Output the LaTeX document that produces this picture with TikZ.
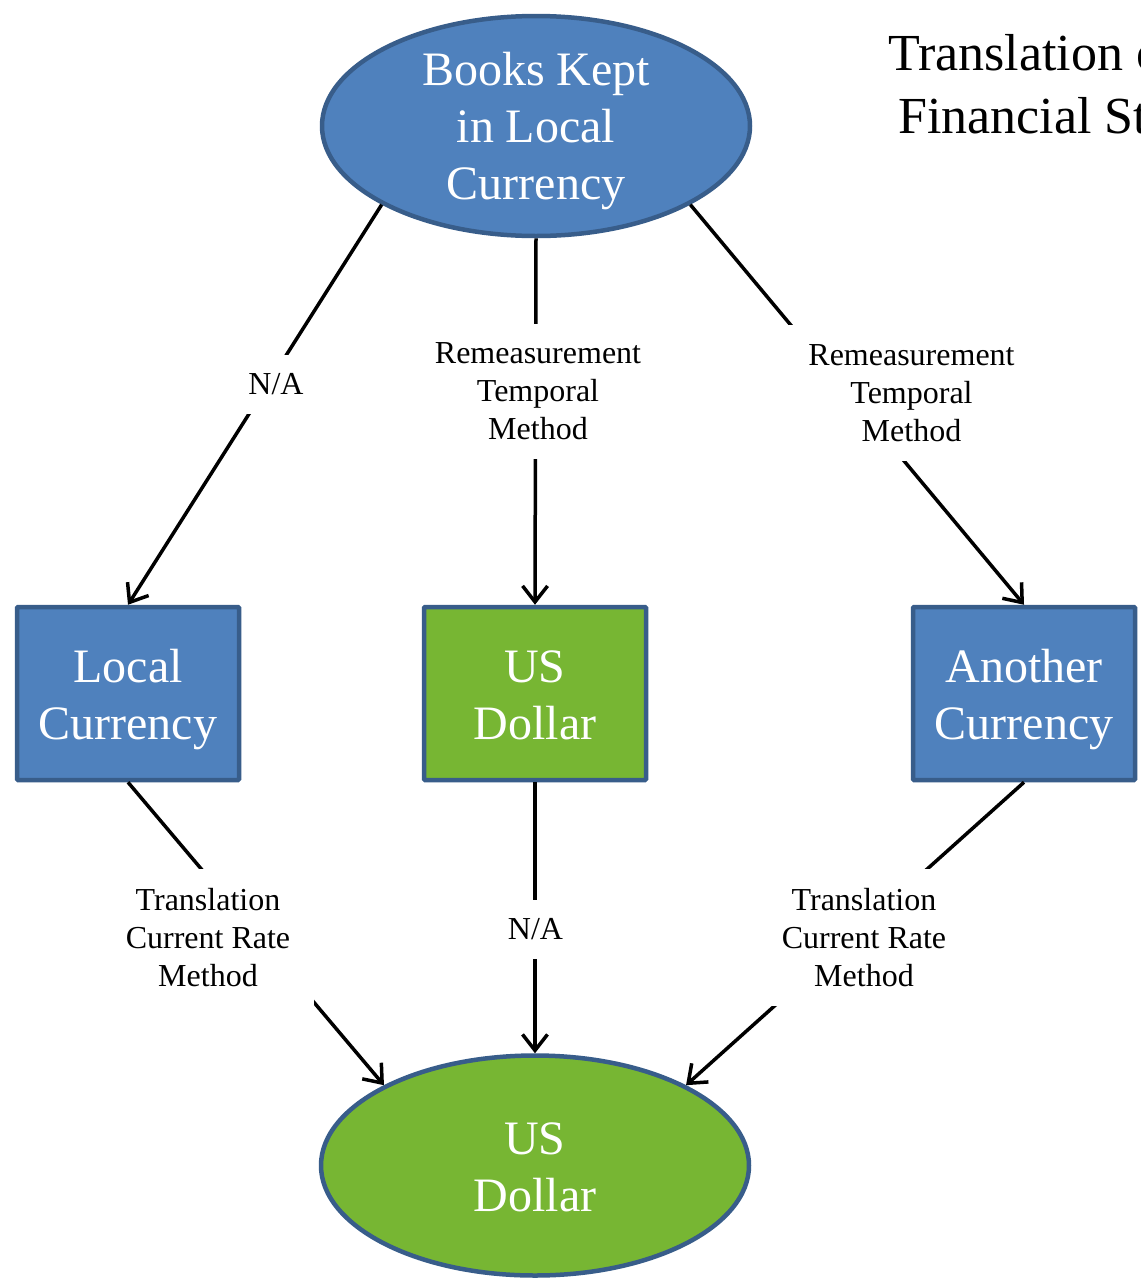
\documentclass[tikz,border=0pt]{standalone}
\usepackage{fontspec}
\setmainfont{Liberation Serif}
\usetikzlibrary{shapes.geometric,arrows.meta}
\definecolor{bfill}{HTML}{4F81BD}
\definecolor{bline}{HTML}{385D8A}
\definecolor{gfill}{HTML}{77B633}
\begin{document}
\begin{tikzpicture}[x=1pt,y=-1pt,
  ell/.style={ellipse,draw=bline,line width=4.5pt,minimum width=428pt,minimum height=220pt,inner sep=0pt},
  box/.style={rectangle,draw=bline,line width=4.5pt,minimum width=222pt,minimum height=173pt,inner sep=0pt,rounded corners=1pt},
  big/.style={text=white,align=center,font=\fontsize{48}{57}\selectfont,inner sep=0pt},
  lbl/.style={fill=white,align=center,font=\fontsize{32}{38}\selectfont,inner xsep=24pt,inner ysep=19pt},
  conn/.style={line width=3.5pt,-{Straight Barb[length=16pt,width=25pt]}},
  ttl/.style={anchor=base west,font=\fontsize{52}{63}\selectfont,inner sep=0pt}]
\useasboundingbox (0,0) rectangle (1141,1283);
\clip (0,0) rectangle (1141,1283);
\fill[white] (0,0) rectangle (1141,1283);

\node[ttl] (title1) at (888,70) {Translation of};
\node[ttl] (title2) at (898,133) {Financial Statements};

\node[ell,fill=bfill] (top) at (536,126) {};
\node[big] (toptext) at (536,131) {Books Kept\\in Local\\Currency};
\node[box,fill=bfill] (lc) at (128,693.5) {};
\node[big] (lctext) at (128,700) {Local\\Currency};
\node[box,fill=gfill] (usd) at (535,693.5) {};
\node[big] (usdtext) at (535,695.5) {US\\Dollar};
\node[box,fill=bfill] (ac) at (1024,693.5) {};
\node[big] (actext) at (1024,700) {Another\\Currency};
\node[ell,fill=gfill] (bot) at (535,1165.5) {};
\node[big] (bottext) at (535,1167.5) {US\\Dollar};

\draw[conn] (top.207) -- (lc.north);
\draw[conn] (top.south) -- (usd.north);
\draw[conn] (top.333) -- (ac.north);
\draw[conn] (lc.south) -- (bot.152);
\draw[conn] (usd.south) -- (bot.north);
\draw[conn] (ac.south) -- (bot.28);

\node[lbl] (l1) at (276,384.5) {N/A};
\node[lbl] (l2) at (538,391.5) {Remeasurement\\Temporal\\Method};
\node[lbl] (l3) at (911.5,393) {Remeasurement\\Temporal\\Method};
\node[lbl] (l4) at (208,937.5) {Translation\\Current Rate\\Method};
\node[lbl] (l5) at (535.5,929.5) {N/A};
\node[lbl] (l6) at (864,937.5) {Translation\\Current Rate\\Method};
\end{tikzpicture}
\end{document}
